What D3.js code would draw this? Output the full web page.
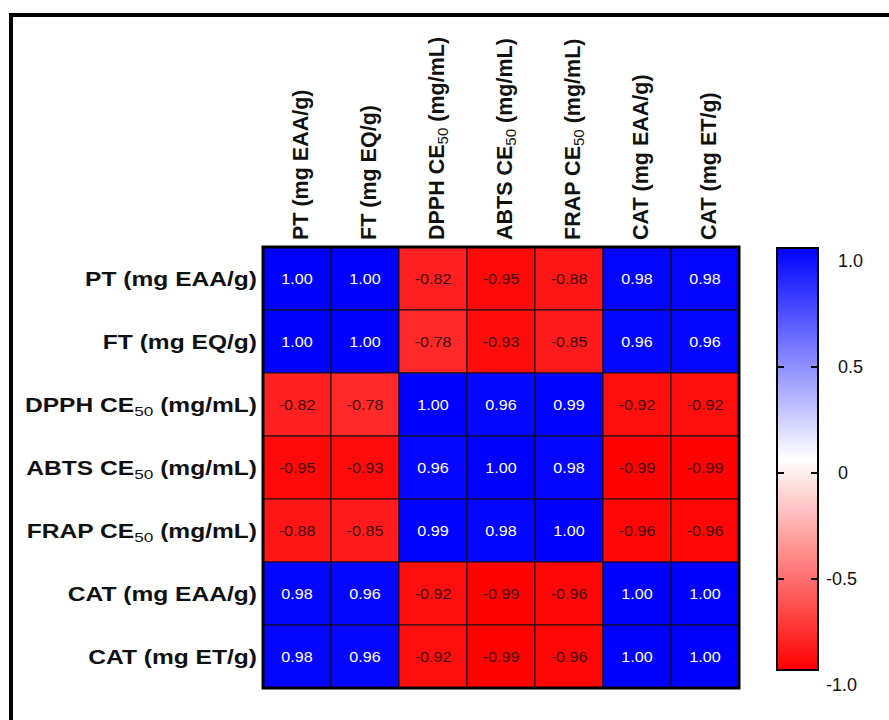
<!DOCTYPE html>
<html>
<head>
<meta charset="utf-8">
<script src="https://cdn.jsdelivr.net/npm/d3@7"></script>
<style>
  html, body { margin: 0; padding: 0; background: #fff; }
  svg { display: block; }
</style>
</head>
<body>
<svg id="chart" width="889" height="720"></svg>
<script>
// ---- Data ----
// Each label: [before subscript, subscript, after subscript]
const variables = [
  ["PT (mg EAA/g)", "", ""],
  ["FT (mg EQ/g)", "", ""],
  ["DPPH CE", "50", " (mg/mL)"],
  ["ABTS CE", "50", " (mg/mL)"],
  ["FRAP CE", "50", " (mg/mL)"],
  ["CAT (mg EAA/g)", "", ""],
  ["CAT (mg ET/g)", "", ""]
];
const rowPT   = [1.00, 1.00, -0.82, -0.95, -0.88, 0.98, 0.98];
const rowFT   = [1.00, 1.00, -0.78, -0.93, -0.85, 0.96, 0.96];
const rowDPPH = [-0.82, -0.78, 1.00, 0.96, 0.99, -0.92, -0.92];
const rowABTS = [-0.95, -0.93, 0.96, 1.00, 0.98, -0.99, -0.99];
const rowFRAP = [-0.88, -0.85, 0.99, 0.98, 1.00, -0.96, -0.96];
const rowCATa = [0.98, 0.96, -0.92, -0.99, -0.96, 1.00, 1.00];
const rowCATe = [0.98, 0.96, -0.92, -0.99, -0.96, 1.00, 1.00];
const matrix = [rowPT, rowFT, rowDPPH, rowABTS, rowFRAP, rowCATa, rowCATe];
const legendTicks = [1.0, 0.5, 0, -0.5, -1.0];
const legendTickLabels = ["1.0", "0.5", "0", "-0.5", "-1.0"];

// ---- Setup ----
const svg = d3.select("#chart");
const ids = variables.map((v, i) => i);

// outer frame
svg.append("rect")
  .attr("x", 11).attr("y", 15)
  .attr("width", 1000).attr("height", 1000)
  .attr("fill", "none").attr("stroke", "#000").attr("stroke-width", 4);

const x = d3.scaleBand().domain(ids).range([263, 739]).padding(0);
const y = d3.scaleBand().domain(ids).range([247, 688]).padding(0);
const baseColor = d3.scaleLinear().domain([-1, 0, 1]).range(["#ff0000", "#ffffff", "#0000ff"]);
const color = v => baseColor(Math.sign(v) * Math.pow(Math.abs(v), 0.7));

const cells = [];
matrix.forEach((row, r) => row.forEach((v, c) => cells.push({ r, c, v })));

const fontFam = "'Liberation Sans', Arial, Helvetica, sans-serif";

// cells
svg.append("g").selectAll("rect")
  .data(cells).join("rect")
  .attr("x", d => x(d.c))
  .attr("y", d => y(d.r))
  .attr("width", x.bandwidth())
  .attr("height", y.bandwidth())
  .attr("fill", d => color(d.v))
  .attr("stroke", "#111")
  .attr("stroke-width", 1);

// cell labels
svg.append("g").selectAll("text")
  .data(cells).join("text")
  .attr("transform", d => `translate(${x(d.c) + x.bandwidth() / 2},${y(d.r) + y.bandwidth() / 2}) scale(1.15,1)`)
  .attr("text-anchor", "middle")
  .attr("dy", "0.36em")
  .attr("font-family", fontFam)
  .attr("font-size", 14)
  .attr("fill", d => d.v >= 0 ? "#ffffff" : "#3c0808")
  .text(d => d3.format(".2f")(d.v).replace("−", "-"));

// heatmap border
svg.append("rect")
  .attr("x", 263).attr("y", 247)
  .attr("width", 739 - 263).attr("height", 688 - 247)
  .attr("fill", "none").attr("stroke", "#000").attr("stroke-width", 3);

function addLabel(sel, lab, size) {
  sel.append("tspan").text(lab[0]);
  if (lab[1]) {
    sel.append("tspan").attr("font-weight", "normal")
      .attr("font-size", size * 0.7).attr("dy", size * 0.22).text(lab[1]);
    sel.append("tspan").attr("dy", -size * 0.22).text(lab[2]);
  }
}

// row labels
const rowSize = 19.5;
svg.append("g").selectAll("text")
  .data(ids).join("text")
  .attr("transform", i => `translate(257,${y(i) + y.bandwidth() / 2}) scale(1.26,1)`)
  .attr("text-anchor", "end")
  .attr("dy", "0.36em")
  .attr("font-family", fontFam)
  .attr("font-weight", "bold")
  .attr("font-size", rowSize)
  .attr("fill", "#111")
  .each(function (i) { addLabel(d3.select(this), variables[i], rowSize); });

// column labels
const colSize = 21.5;
svg.append("g").selectAll("text")
  .data(ids).join("text")
  .attr("transform", i => `translate(${x(i) + x.bandwidth() / 2 + 3},240) rotate(-90)`)
  .attr("text-anchor", "start")
  .attr("dy", "0.36em")
  .attr("font-family", fontFam)
  .attr("font-weight", "bold")
  .attr("font-size", colSize)
  .attr("fill", "#111")
  .each(function (i) { addLabel(d3.select(this), variables[i], colSize); });

// ---- Colour bar ----
const barX = 777, barW = 41, barTop = 248, barBot = 670;
const ly = d3.scaleLinear().domain([1, -1]).range([261, 685]);
const defs = svg.append("defs");
const grad = defs.append("linearGradient").attr("id", "cbar")
  .attr("x1", 0).attr("y1", 0).attr("x2", 0).attr("y2", 1);
d3.range(0, 21).forEach(i => {
  const v = 1 - i / 10;
  grad.append("stop").attr("offset", `${i * 5}%`).attr("stop-color", baseColor(v));
});
svg.append("rect")
  .attr("x", barX).attr("y", barTop)
  .attr("width", barW).attr("height", barBot - barTop)
  .attr("fill", "url(#cbar)")
  .attr("stroke", "#000").attr("stroke-width", 2);

const inner = legendTicks.filter(v => Math.abs(v) < 1);
svg.append("g").selectAll("line.l")
  .data(inner).join("line")
  .attr("x1", barX).attr("x2", barX + 7)
  .attr("y1", d => ly(d)).attr("y2", d => ly(d))
  .attr("stroke", "#000").attr("stroke-width", 2);
svg.append("g").selectAll("line.r")
  .data(inner).join("line")
  .attr("x1", barX + barW - 7).attr("x2", barX + barW)
  .attr("y1", d => ly(d)).attr("y2", d => ly(d))
  .attr("stroke", "#000").attr("stroke-width", 2);

svg.append("g").selectAll("text")
  .data(legendTicks).join("text")
  .attr("x", (d) => d < 0 ? 826 : 838)
  .attr("y", d => ly(d))
  .attr("dy", "0.36em")
  .attr("font-family", fontFam)
  .attr("font-size", 18)
  .attr("fill", "#111")
  .text((d, i) => legendTickLabels[i]);
</script>
</body>
</html>
